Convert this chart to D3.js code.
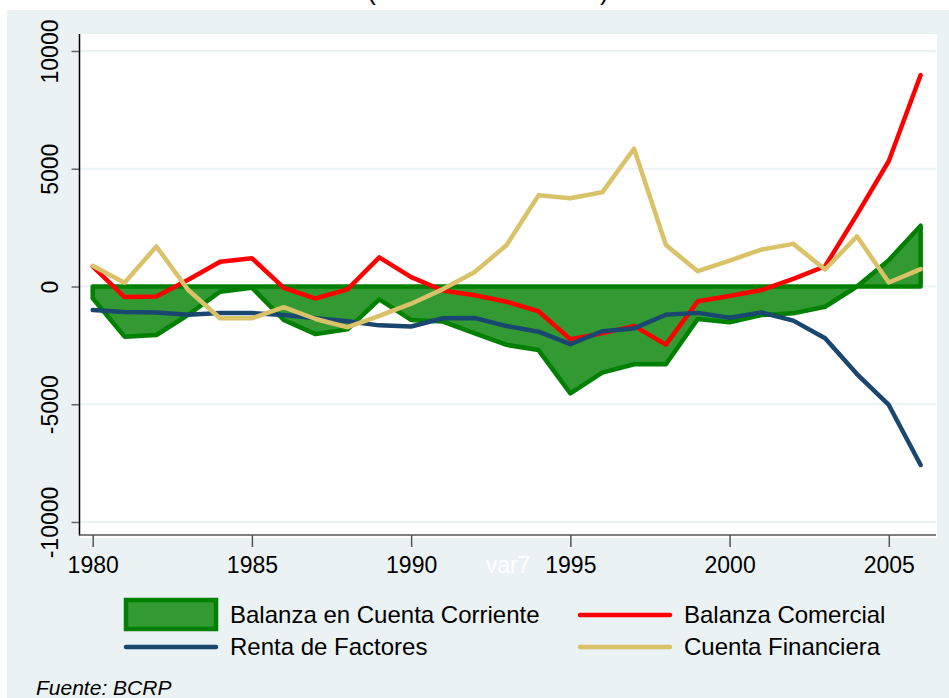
<!DOCTYPE html>
<html>
<head>
<meta charset="utf-8">
<script src="https://cdn.jsdelivr.net/npm/d3@7/dist/d3.min.js"></script>
<style>
    body { margin: 0; background: #ffffff; }
    svg { display: block; font-family: "Liberation Sans", Arial, sans-serif; }
</style>
</head>
<body>
<div id="chart"></div>
<script>
// datos (millones de US$)
const years = d3.range(1980, 2007);
const cuentaCorriente = [-500, -2130, -2060, -1200, -220, -50, -1420, -2020, -1820, -550,
    -1420, -1490, -1990, -2480, -2700, -4540, -3660, -3300, -3300, -1380,
    -1520, -1210, -1140, -860, 0, 1120, 2580];
const balanzaComercial = [850, -450, -420, 290, 1050, 1200, -60, -510, -120, 1240,
    400, -170, -370, -650, -1050, -2240, -1990, -1670, -2470, -630,
    -400, -150, 320, 860, 3050, 5330, 8980];
const rentaFactores = [-1000, -1080, -1100, -1200, -1130, -1130, -1210, -1350, -1480, -1650,
    -1700, -1350, -1340, -1680, -1920, -2450, -1900, -1780, -1200, -1120,
    -1330, -1100, -1450, -2200, -3720, -5030, -7580];
const cuentaFinanciera = [880, 160, 1700, -150, -1350, -1350, -880, -1380, -1730, -1250,
    -730, -110, 620, 1760, 3870, 3750, 4000, 5850, 1760, 650,
    1100, 1570, 1810, 720, 2130, 170, 740];

const yTicks = [-10000, -5000, 0, 5000, 10000];
const xTicks = [1980, 1985, 1990, 1995, 2000, 2005];

const W = 949, H = 698;
const plot = { left: 80, top: 34, right: 937, bottom: 538 };

const svg = d3.select('#chart').append('svg')
    .attr('width', W)
    .attr('height', H);

// fondo del grafico y region de trazado
svg.append('rect').attr('x', 7).attr('y', 10).attr('width', W - 7).attr('height', H - 10)
    .attr('fill', '#eaf2f3');
svg.append('rect').attr('x', plot.left).attr('y', plot.top)
    .attr('width', plot.right - plot.left).attr('height', plot.bottom - plot.top)
    .attr('fill', '#ffffff');

// titulo recortado arriba (en el original solo se ven los parentesis)
svg.append('text').attr('x', 488).attr('y', 0)
    .attr('text-anchor', 'middle').style('font-size', '26px')
    .text('(Millones de dólares)');

const xScale = d3.scaleLinear().domain([1980, 2005]).range([92.7, 888.8]);
const yScale = d3.scaleLinear().domain([-10000, 10000]).range([522, 51]);

// lineas de cuadricula
svg.append('g').selectAll('line').data(yTicks).enter().append('line')
    .attr('x1', plot.left).attr('x2', plot.right - 1)
    .attr('y1', function (d) { return yScale(d); })
    .attr('y2', function (d) { return yScale(d); })
    .attr('stroke', '#eaf2f3').attr('stroke-width', 2);

// ejes
let yAxis = d3.axisLeft(yScale).tickValues(yTicks).tickSize(8).tickPadding(14)
    .tickFormat(function (d) { return d; });
let gy = svg.append('g').attr('class', 'yaxis')
    .attr('transform', 'translate(' + (plot.left - 0.5) + ',0)')
    .call(yAxis);
gy.select('.domain').remove();
gy.selectAll('.tick line').attr('stroke', '#666').attr('stroke-width', 1.5);
gy.selectAll('.tick text')
    .style('font-size', '23px').attr('fill', '#000')
    .attr('transform', 'rotate(-90)')
    .attr('x', 0).attr('y', -22).attr('dy', 0)
    .style('text-anchor', 'middle');
svg.append('line').attr('x1', plot.left - 0.5).attr('x2', plot.left - 0.5)
    .attr('y1', plot.top).attr('y2', 535.5)
    .attr('stroke', '#000').attr('stroke-width', 1.5);

let xAxis = d3.axisBottom(xScale).tickValues(xTicks).tickSize(12).tickPadding(10)
    .tickFormat(function (d) { return d; });
let gx = svg.append('g').attr('class', 'xaxis')
    .attr('transform', 'translate(0,535)')
    .call(xAxis);
gx.select('.domain').remove();
gx.selectAll('.tick line').attr('stroke', '#555').attr('stroke-width', 1.5);
gx.selectAll('.tick text').style('font-size', '23px').attr('fill', '#000')
    .attr('y', 38).attr('dy', 0);
svg.append('line').attr('x1', plot.left - 1).attr('x2', 936)
    .attr('y1', 535).attr('y2', 535)
    .attr('stroke', '#555').attr('stroke-width', 1.5);

// titulo del eje x (en blanco, como el original)
svg.append('text').attr('x', 508).attr('y', 573)
    .attr('text-anchor', 'middle').style('font-size', '23px').attr('fill', '#ffffff')
    .text('var7');

// area de la cuenta corriente
let area = d3.area()
    .x(function (d, i) { return xScale(years[i]); })
    .y0(yScale(0))
    .y1(function (d) { return yScale(d); });

svg.append('path').datum(cuentaCorriente)
    .attr('d', area)
    .attr('fill', '#339933').attr('stroke', '#008000')
    .attr('stroke-width', 4.5).attr('stroke-linejoin', 'round');

let line = d3.line()
    .x(function (d, i) { return xScale(years[i]); })
    .y(function (d) { return yScale(d); });

const series = [
    { values: balanzaComercial, color: '#ff0000' },
    { values: rentaFactores, color: '#1a476f' },
    { values: cuentaFinanciera, color: '#d9c268' }
];

series.forEach(function (s) {
    svg.append('path').datum(s.values)
        .attr('d', line)
        .attr('fill', 'none').attr('stroke', s.color)
        .attr('stroke-width', 4.5)
        .attr('stroke-linejoin', 'round').attr('stroke-linecap', 'round');
});

// leyenda
let legend = svg.append('g').attr('class', 'legend');
legend.append('rect').attr('x', 126).attr('y', 600).attr('width', 90).attr('height', 29)
    .attr('fill', '#339933').attr('stroke', '#008000').attr('stroke-width', 4.5);

const legendItems = [
    { label: 'Balanza en Cuenta Corriente', x: 230, y: 615, color: null },
    { label: 'Balanza Comercial', x: 684, y: 615, color: '#ff0000' },
    { label: 'Renta de Factores', x: 230, y: 647, color: '#1a476f' },
    { label: 'Cuenta Financiera', x: 684, y: 647, color: '#d9c268' }
];

legendItems.forEach(function (d) {
    if (d.color) {
        legend.append('line').attr('x1', d.x - 104).attr('x2', d.x - 14)
            .attr('y1', d.y).attr('y2', d.y)
            .attr('stroke', d.color).attr('stroke-width', 4.5).attr('stroke-linecap', 'round');
    }
    legend.append('text').attr('x', d.x).attr('y', d.y + 8)
        .style('font-size', '24px').attr('fill', '#000')
        .text(d.label);
});

svg.append('text').attr('x', 36).attr('y', 695)
    .style('font-size', '21px').style('font-style', 'italic').attr('fill', '#000')
    .text('Fuente: BCRP');
</script>
</body>
</html>
